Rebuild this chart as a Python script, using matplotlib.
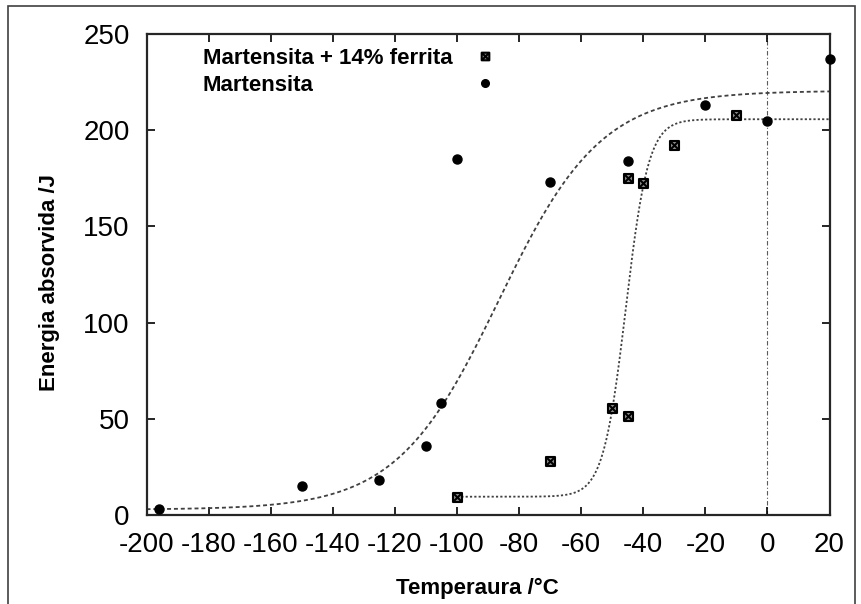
import numpy as np
import matplotlib
matplotlib.use("Agg")
import matplotlib.pyplot as plt
from matplotlib.path import Path
from matplotlib.patches import Rectangle

# Charpy impact data: temperature (°C) vs absorbed energy (J)
temp_mart = [-196, -150, -125, -110, -105, -100, -70, -45, -20, 0, 20]
energy_mart = [3, 15, 18, 36, 58, 185, 173, 184, 213, 205, 237]

temp_ferr = [-100, -70, -50, -45, -45, -40, -30, -10]
energy_ferr = [9.5, 28, 55.5, 51.5, 175, 172.5, 192.5, 208]

# tanh transition fits: lower shelf, upper shelf, transition temperature, width
fit_mart = dict(lower=2.8, upper=220.5, t0=-86.5, width=33.0, tmin=-200, tmax=20)
fit_ferr = dict(lower=9.5, upper=205.7, t0=-45.6, width=7.3, tmin=-100, tmax=20)

x_ticks = list(range(-200, 21, 20))
y_ticks = list(range(0, 251, 50))

legend_labels = ["Martensita + 14% ferrita", "Martensita"]
x_label = "Temperaura /°C"
y_label = "Energia absorvida /J"


def tanh_curve(p, n=400):
    t = np.linspace(p["tmin"], p["tmax"], n)
    a = 0.5 * (p["upper"] + p["lower"])
    b = 0.5 * (p["upper"] - p["lower"])
    return t, a + b * np.tanh((t - p["t0"]) / p["width"])


# boxed-cross marker
M, L, C = Path.MOVETO, Path.LINETO, Path.CLOSEPOLY
boxx = Path([(-1, -1), (1, -1), (1, 1), (-1, 1), (-1, -1),
             (-1, -1), (1, 1), (-1, 1), (1, -1)],
            [M, L, L, L, C, M, L, M, L])

plt.rcParams["font.family"] = ["Liberation Sans", "DejaVu Sans"]
plt.rcParams["axes.unicode_minus"] = False

W, H = 861, 604
fig = plt.figure(figsize=(W / 100, H / 100), dpi=100)
ax = fig.add_axes([146.5 / W, 1 - 515 / H, 683 / W, 481 / H])

# outer frame
fig.patches.append(Rectangle((8 / W, -0.01), (855 - 8) / W, (1 - 6 / H) + 0.01,
                             transform=fig.transFigure, fill=False,
                             edgecolor="0.25", linewidth=1.2))

# zero line
ax.axvline(0, color="0.35", lw=0.8, ls=(0, (4, 2, 1, 2)), zorder=1)

# fitted curves
t, e = tanh_curve(fit_mart)
ax.plot(t, e, color="0.25", lw=1.3, ls=(0, (2.2, 1.6)), zorder=2)
t, e = tanh_curve(fit_ferr)
ax.plot(t, e, color="0.25", lw=1.3, ls=(0, (1.2, 1.2)), zorder=2)

# measured points
ferr_style = dict(ls="none", marker=boxx, ms=6.5, mfc="0.55", mec="black", mew=1.5)
mart_style = dict(ls="none", marker="o", ms=6.5, mfc="black", mec="black")
ax.plot(temp_ferr, energy_ferr, zorder=3, clip_on=False, **ferr_style)
ax.plot(temp_mart, energy_mart, zorder=3, clip_on=False, **mart_style)

# key
key_y = [0.938, 0.882]
for lab, yy, sty in zip(legend_labels, key_y, [ferr_style, mart_style]):
    ax.text(0.0827, yy, lab, transform=ax.transAxes, fontsize=16,
            fontweight="bold", ha="left", va="baseline")
    ax.plot([0.4956], [yy + 0.017], transform=ax.transAxes, clip_on=False,
            **{**sty, "ms": 5.5})

ax.set_xlim(-200, 20)
ax.set_ylim(0, 250)
ax.set_xticks(x_ticks)
ax.set_yticks(y_ticks)
ax.tick_params(direction="in", length=6, width=1.2, labelsize=20, pad=12,
               top=True, right=True, colors="black")

for s in ax.spines.values():
    s.set_linewidth(1.6)
    s.set_color("0.15")

ax.set_xlabel(x_label, fontsize=16, fontweight="bold")
ax.set_ylabel(y_label, fontsize=16, fontweight="bold")
ax.xaxis.set_label_coords(0.484, -0.13)
ax.yaxis.set_label_coords(-0.127, 0.484)

fig.savefig("out.png", dpi=100)
